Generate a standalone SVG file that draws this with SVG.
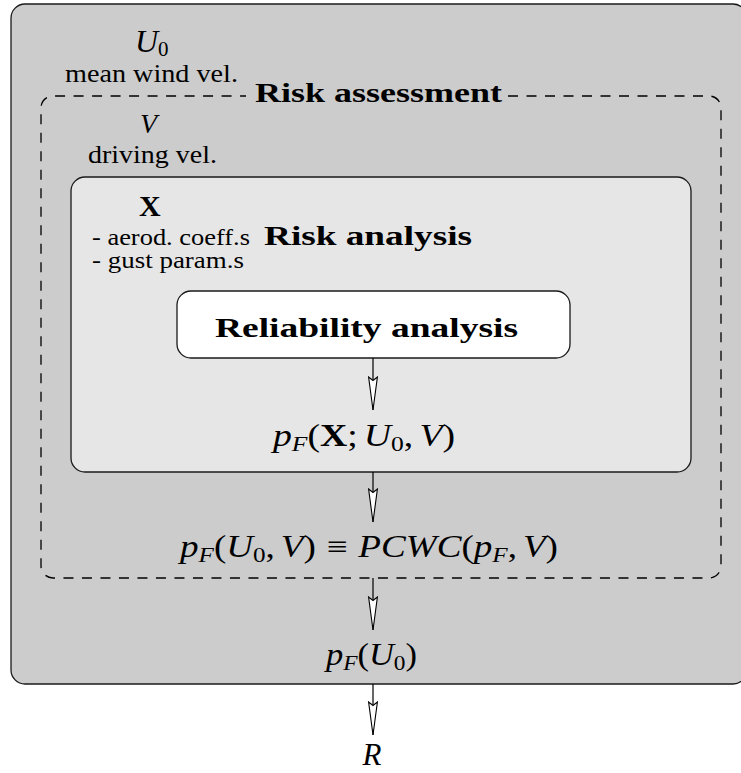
<svg xmlns="http://www.w3.org/2000/svg" width="741" height="773" viewBox="0 0 741 773">
  <style>
    .box { stroke: #1a1a1a; stroke-width: 1.3; }
    .dash { fill: none; stroke: #000; stroke-width: 1.3; stroke-dasharray: 10 8.5; }
    .lbl { font-family: "Liberation Serif", "Times New Roman", serif; fill: #000; }
    .small { font-size: 25px; }
    .title { font-size: 28px; font-weight: bold; }
    .math { font-size: 31px; font-style: italic; }
    .up { font-style: normal; }
    .sub { font-size: 21px; }
    .conn { stroke: #000; stroke-width: 1.2; fill: none; marker-end: url(#head); }
  </style>
  <defs>
    <marker id="head" viewBox="-35 -6 36 12" refX="0" refY="0" markerWidth="36" markerHeight="12" markerUnits="userSpaceOnUse" orient="auto" overflow="visible">
      <path d="M0,0 L-33,-4.4 L-29.5,0 L-33,4.4 Z" fill="#fff" stroke="#000" stroke-width="1.1" stroke-linejoin="miter"/>
    </marker>
  </defs>

  <rect width="741" height="773" fill="#fff"/>

  <!-- outer scope: wind risk -->
  <g id="outer">
    <rect class="box" x="11" y="4" width="736" height="680" rx="14" fill="#cccccc"/>
    <text class="lbl math" x="135" y="52" style="font-size:32px">U<tspan class="up sub" dy="4">0</tspan></text>
    <text class="lbl small" x="65" y="82" textLength="173" lengthAdjust="spacingAndGlyphs">mean wind vel.</text>
    <text class="lbl math" x="326" y="665" textLength="91" lengthAdjust="spacingAndGlyphs">p<tspan class="sub" dy="5">F</tspan><tspan class="up" dy="-5">(</tspan>U<tspan class="up sub" dy="5">0</tspan><tspan class="up" dy="-5">)</tspan></text>
  </g>

  <!-- risk assessment (dashed frame) -->
  <g id="risk-assessment">
    <path class="dash" d="M508,96 H709 A12,12 0 0 1 721,108 V566 A12,12 0 0 1 709,578 H53 A12,12 0 0 1 41,566 V108 A12,12 0 0 1 53,96 H246"/>
    <text class="lbl title" x="255" y="102" textLength="247" lengthAdjust="spacingAndGlyphs">Risk assessment</text>
    <text class="lbl math" x="140" y="133" style="font-size:28px">V</text>
    <text class="lbl small" x="88" y="163" textLength="129" lengthAdjust="spacingAndGlyphs">driving vel.</text>
    <text class="lbl math" x="180" y="557" textLength="378" lengthAdjust="spacingAndGlyphs">p<tspan class="sub" dy="5">F</tspan><tspan class="up" dy="-5">(</tspan>U<tspan class="up sub" dy="5">0</tspan><tspan class="up" dy="-5">,</tspan><tspan dx="5">V</tspan><tspan class="up">)</tspan><tspan class="up" dx="9">≡</tspan><tspan dx="9">PCWC</tspan><tspan class="up">(</tspan>p<tspan class="sub" dy="5">F</tspan><tspan class="up" dy="-5">,</tspan><tspan dx="5">V</tspan><tspan class="up">)</tspan></text>
  </g>

  <!-- risk analysis -->
  <g id="risk-analysis">
    <rect class="box" x="71" y="177" width="620" height="295" rx="14" fill="#e6e6e6"/>
    <text class="lbl" x="139" y="216" style="font-size:30px;font-weight:bold">X</text>
    <text class="lbl small" x="92" y="245" style="font-size:23px" textLength="158" lengthAdjust="spacingAndGlyphs">- aerod.  coeff.s</text>
    <text class="lbl title" x="264" y="245" textLength="208" lengthAdjust="spacingAndGlyphs">Risk analysis</text>
    <text class="lbl small" x="92" y="268" style="font-size:23px" textLength="152" lengthAdjust="spacingAndGlyphs">- gust param.s</text>
    <text class="lbl math" x="273" y="446" textLength="182" lengthAdjust="spacingAndGlyphs">p<tspan class="sub" dy="5">F</tspan><tspan class="up" dy="-5">(</tspan><tspan class="up" font-weight="bold">X</tspan><tspan class="up">;</tspan><tspan dx="5">U</tspan><tspan class="up sub" dy="5">0</tspan><tspan class="up" dy="-5">,</tspan><tspan dx="5">V</tspan><tspan class="up">)</tspan></text>
  </g>

  <!-- reliability analysis -->
  <g id="reliability-analysis">
    <rect class="box" x="177" y="291" width="393" height="67" rx="14" fill="#fff"/>
    <text class="lbl title" x="215" y="337" textLength="303" lengthAdjust="spacingAndGlyphs">Reliability analysis</text>
  </g>

  <!-- result -->
  <g id="result">
    <text class="lbl math" x="372" y="765" text-anchor="middle">R</text>
  </g>

  <!-- connectors -->
  <g id="connectors">
    <line class="conn" x1="373" y1="358" x2="373" y2="410"/>
    <line class="conn" x1="373" y1="472" x2="373" y2="522"/>
    <line class="conn" x1="373" y1="578" x2="373" y2="630"/>
    <line class="conn" x1="373" y1="684" x2="373" y2="735"/>
  </g>
</svg>
